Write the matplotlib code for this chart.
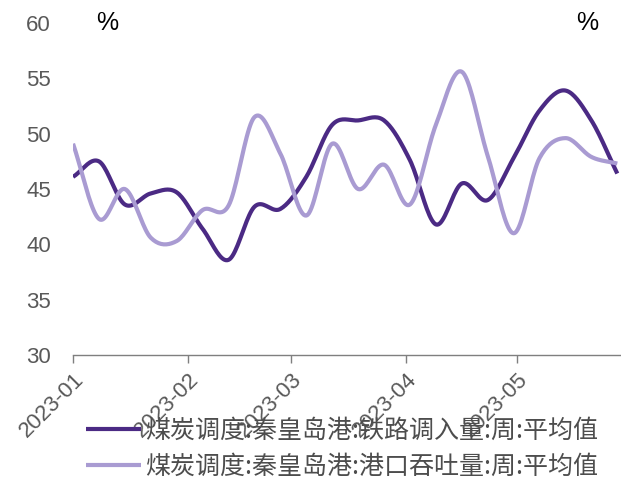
"""秦皇岛港煤炭调度：铁路调入量与港口吞吐量（周平均值）。"""

import matplotlib

matplotlib.use("Agg")
import matplotlib.dates as mdates
import matplotlib.pyplot as plt
import numpy as np
import pandas as pd


# 周度数据，从 2023-01-01 开始，每 7 天一个点
START_DATE = "2023-01-01"
N_WEEKS = 22

RAIL_IN = [
    46.1, 47.5, 43.6, 44.6, 44.7, 41.4, 38.6, 43.4, 43.2, 46.1, 50.8,
    51.2, 51.2, 47.6, 41.8, 45.5, 44.0, 47.8, 52.1, 53.9, 51.2, 46.4,
]
PORT_THROUGHPUT = [
    49.1, 42.3, 45.0, 40.6, 40.3, 43.1, 43.5, 51.5, 48.2, 42.6, 49.1,
    45.0, 47.2, 43.6, 50.8, 55.6, 48.0, 41.0, 47.8, 49.6, 47.9, 47.3,
]

SERIES_NAMES = [
    "煤炭调度:秦皇岛港:铁路调入量:周:平均值",
    "煤炭调度:秦皇岛港:港口吞吐量:周:平均值",
]
SERIES_COLORS = ["#4b2a84", "#a99bd2"]

Y_TICKS = [30, 35, 40, 45, 50, 55, 60]
X_TICKS = ["2023-01-01", "2023-02-01", "2023-03-01", "2023-04-01", "2023-05-01"]
X_TICK_LABELS = ["2023-01", "2023-02", "2023-03", "2023-04", "2023-05"]
X_END = "2023-05-29"


def smooth(x: np.ndarray, y: np.ndarray, steps: int = 20):
    """Catmull-Rom 风格的三次 Hermite 平滑，模拟 Excel 的平滑线。"""

    y = np.asarray(y, dtype=float)
    n = len(y)
    tangents = np.zeros(n)
    tangents[1:-1] = (y[2:] - y[:-2]) / 2
    tangents[0] = y[1] - y[0]
    tangents[-1] = y[-1] - y[-2]

    xs, ys = [], []
    t = np.linspace(0, 1, steps, endpoint=False)
    h00 = 2 * t**3 - 3 * t**2 + 1
    h10 = t**3 - 2 * t**2 + t
    h01 = -2 * t**3 + 3 * t**2
    h11 = t**3 - t**2
    for i in range(n - 1):
        xs.append(x[i] + (x[i + 1] - x[i]) * t)
        ys.append(h00 * y[i] + h10 * tangents[i] + h01 * y[i + 1] + h11 * tangents[i + 1])
    xs.append([x[-1]])
    ys.append([y[-1]])
    return np.concatenate(xs), np.concatenate(ys)


def main() -> None:
    plt.rcParams["font.family"] = ["Liberation Sans", "DejaVu Sans"]

    dates = pd.date_range(START_DATE, periods=N_WEEKS, freq="7D")
    x = mdates.date2num(dates.to_pydatetime())

    fig = plt.figure(figsize=(6.21, 4.80), dpi=100)
    ax = fig.add_axes([0.1176, 0.2604, 0.8824, 0.6916])

    handles = []
    for values, color, name in zip((RAIL_IN, PORT_THROUGHPUT), SERIES_COLORS, SERIES_NAMES):
        xs, ys = smooth(x, values)
        (line,) = ax.plot(xs, ys, color=color, linewidth=3.0, label=name,
                          solid_capstyle="butt")
        handles.append(line)

    ax.set_ylim(30, 60)
    ax.set_yticks(Y_TICKS)
    ax.set_xlim(mdates.datestr2num(START_DATE), mdates.datestr2num(X_END))
    ax.set_xticks([mdates.datestr2num(d) for d in X_TICKS])
    ax.set_xticklabels(X_TICK_LABELS, rotation=45, ha="right",
                       rotation_mode="anchor")

    for side in ("left", "right", "top"):
        ax.spines[side].set_visible(False)
    ax.spines["bottom"].set_color("#7f7f7f")
    ax.spines["bottom"].set_linewidth(1.0)

    ax.tick_params(axis="y", length=0, pad=16, labelsize=16, labelcolor="#595959")
    ax.tick_params(axis="x", length=6, width=1.0, color="#7f7f7f", pad=4,
                   labelsize=16, labelcolor="#595959")

    ax.text(0.062, 1.0, "%", transform=ax.transAxes, ha="center", va="center",
            fontsize=18, color="black")
    ax.text(0.938, 1.0, "%", transform=ax.transAxes, ha="center", va="center",
            fontsize=18, color="black")

    fig.legend(
        handles=handles,
        loc="center left",
        bbox_to_anchor=(0.103, 0.066),
        frameon=False,
        borderpad=0.4,
        handlelength=2.2,
        handletextpad=0.15,
        labelspacing=0.4,
        prop={"family": ["Noto Sans CJK SC", "DejaVu Sans"], "size": 18,
              "weight": "light"},
        labelcolor="#4d4d4d",
    )

    fig.savefig("out.png", dpi=100)
    plt.close(fig)


if __name__ == "__main__":
    main()
